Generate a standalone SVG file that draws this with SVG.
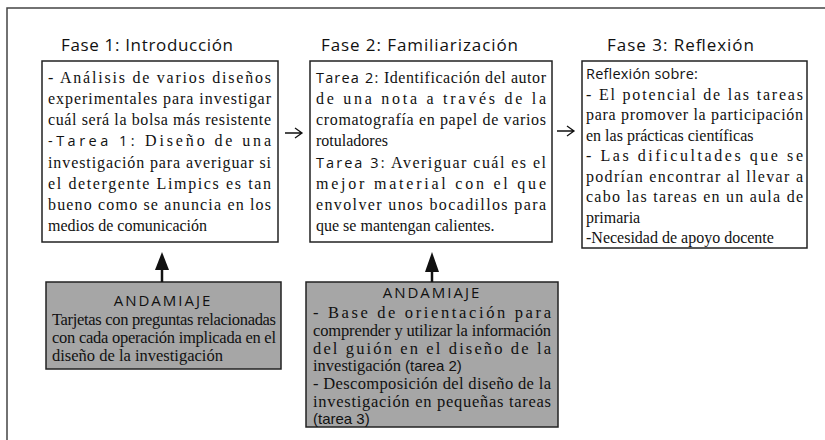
<svg xmlns="http://www.w3.org/2000/svg" width="825" height="440" viewBox="0 0 825 440">
<defs>
<style>
.frame{fill:none;stroke:#444;stroke-width:1.5}
.box{fill:#fff;stroke:#222;stroke-width:1.5}
.gbox{fill:#a6a6a6;stroke:#222;stroke-width:1.5}
.title{font-family:"Open Sans","Liberation Sans",sans-serif;font-size:17px;fill:#111}
.s{font-family:"Liberation Serif","Times New Roman",serif;font-size:16px;fill:#111}
.g{font-size:16.5px}
.ss{font-family:"Open Sans","Liberation Sans",sans-serif;font-size:14.5px;letter-spacing:0.6px}
.nar{font-family:"Liberation Sans Narrow","Liberation Sans",sans-serif;font-size:15px}
.head{font-family:"Open Sans","Liberation Sans",sans-serif;font-size:15px;fill:#111;letter-spacing:2px}
.conn{stroke:#111;fill:none}
.tip{fill:#111;stroke:none}
</style>
</defs>
<rect width="825" height="440" fill="#fff"/>
<path class="frame" d="M7,440 V8 H825"/>

<g id="fase1">
<text class="title" x="61" y="51" textLength="172" lengthAdjust="spacing">Fase 1: Introducción</text>
<rect class="box" x="42" y="61" width="236" height="181"/>
<text class="s" x="48" y="83" textLength="223" lengthAdjust="spacing">- Análisis de varios diseños</text>
<text class="s" x="48" y="104" textLength="223" lengthAdjust="spacing">experimentales para investigar</text>
<text class="s" x="48" y="125" textLength="223" lengthAdjust="spacing">cuál será la bolsa más resistente</text>
<text class="s" x="48" y="146" textLength="223" lengthAdjust="spacing"><tspan class="ss">-Tarea 1:</tspan> Diseño de una</text>
<text class="s" x="48" y="168" textLength="223" lengthAdjust="spacing">investigación para averiguar si</text>
<text class="s" x="48" y="189" textLength="223" lengthAdjust="spacing">el detergente Limpics es tan</text>
<text class="s" x="48" y="210" textLength="223" lengthAdjust="spacing">bueno como se anuncia en los</text>
<text class="s" x="48" y="231">medios de comunicación</text>
</g>

<g id="fase2">
<text class="title" x="321" y="51" textLength="197" lengthAdjust="spacing">Fase 2: Familiarización</text>
<rect class="box" x="310" y="61" width="242" height="181"/>
<text class="s" x="316" y="83" textLength="230" lengthAdjust="spacing"><tspan class="ss">Tarea 2:</tspan> Identificación del autor</text>
<text class="s" x="316" y="104" textLength="230" lengthAdjust="spacing">de una nota a través de la</text>
<text class="s" x="316" y="125" textLength="230" lengthAdjust="spacing">cromatografía en papel de varios</text>
<text class="s" x="316" y="146">rotuladores</text>
<text class="s" x="316" y="168" textLength="230" lengthAdjust="spacing"><tspan class="ss">Tarea 3:</tspan> Averiguar cuál es el</text>
<text class="s" x="316" y="189" textLength="230" lengthAdjust="spacing">mejor material con el que</text>
<text class="s" x="316" y="210" textLength="230" lengthAdjust="spacing">envolver unos bocadillos para</text>
<text class="s" x="316" y="231">que se mantengan calientes.</text>
</g>

<g id="fase3">
<text class="title" x="607" y="51" textLength="147" lengthAdjust="spacing">Fase 3: Reflexión</text>
<rect class="box" x="582" y="61" width="225" height="187"/>
<text class="s" x="586" y="79"><tspan class="ss" style="letter-spacing:0.2px">Reflexión sobre:</tspan></text>
<text class="s" x="586" y="99.5" textLength="217" lengthAdjust="spacing">- El potencial de las tareas</text>
<text class="s" x="586" y="120" textLength="217" lengthAdjust="spacing">para promover la participación</text>
<text class="s" x="586" y="140.5">en las prácticas científicas</text>
<text class="s" x="586" y="161" textLength="217" lengthAdjust="spacing">- Las dificultades que se</text>
<text class="s" x="586" y="181.5" textLength="217" lengthAdjust="spacing">podrían encontrar al llevar a</text>
<text class="s" x="586" y="202" textLength="217" lengthAdjust="spacing">cabo las tareas en un aula de</text>
<text class="s" x="586" y="222.5">primaria</text>
<text class="s" x="586" y="243">-Necesidad de apoyo docente</text>
</g>

<g id="andamiaje1">
<rect class="gbox" x="46" y="282" width="235" height="87"/>
<text class="head" x="163" y="306" text-anchor="middle">ANDAMIAJE</text>
<text class="s g" x="52" y="325" textLength="224" lengthAdjust="spacing">Tarjetas con preguntas relacionadas</text>
<text class="s g" x="52" y="343" textLength="224" lengthAdjust="spacing">con cada operación implicada en el</text>
<text class="s g" x="52" y="361">diseño de la investigación</text>
</g>

<g id="andamiaje2">
<rect class="gbox" x="306" y="282" width="252" height="145"/>
<text class="head" x="432" y="298" text-anchor="middle">ANDAMIAJE</text>
<text class="s g" x="313" y="318" textLength="238" lengthAdjust="spacing">- Base de orientación para</text>
<text class="s g" x="313" y="336" textLength="238" lengthAdjust="spacing">comprender y utilizar la información</text>
<text class="s g" x="313" y="353.5" textLength="238" lengthAdjust="spacing">del guión en el diseño de la</text>
<text class="s g" x="313" y="371">investigación <tspan class="nar">(tarea 2)</tspan></text>
<text class="s g" x="313" y="389" textLength="238" lengthAdjust="spacing">- Descomposición del diseño de la</text>
<text class="s g" x="313" y="406.5" textLength="238" lengthAdjust="spacing">investigación en pequeñas tareas</text>
<text class="s g" x="313" y="424"><tspan class="nar">(tarea 3)</tspan></text>
</g>

<g id="connectors">
<path class="conn" stroke-width="1.3" d="M285,133 H302 M295,128 L302,133 L295,138"/>
<path class="conn" stroke-width="1.3" d="M557,131 H574 M567,126 L574,131 L567,136"/>
<path class="conn" stroke-width="2.5" d="M162,282 V268"/>
<polygon class="tip" points="162,252 169,270 155,270"/>
<path class="conn" stroke-width="2.5" d="M432,282 V270"/>
<polygon class="tip" points="432,252 439,272 425,272"/>
</g>
</svg>
